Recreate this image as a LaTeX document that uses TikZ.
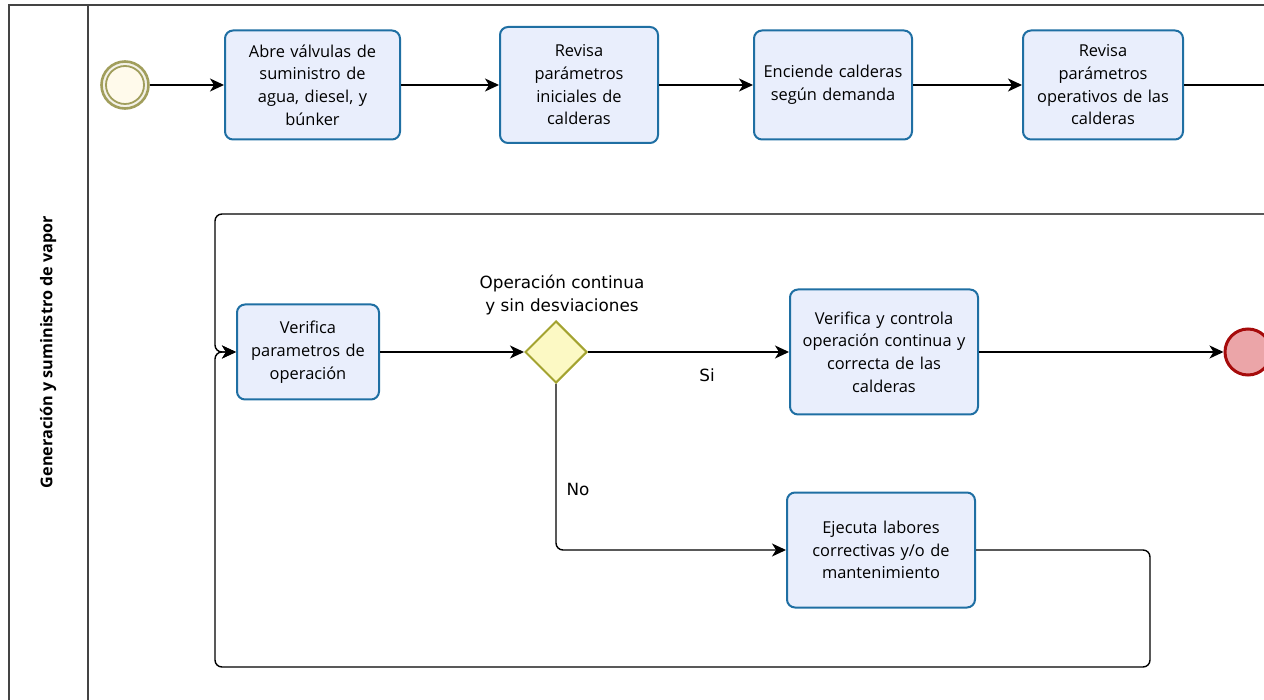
\documentclass[tikz,border=0pt]{standalone}
\usepackage{fontspec}
\setmainfont{Open Sans}
\newfontfamily\labelfont{DejaVu Sans}
\usetikzlibrary{arrows.meta,shapes.geometric}

\definecolor{taskfill}{HTML}{E9EEFC}
\definecolor{taskline}{HTML}{1F6FA3}
\definecolor{gwfill}{HTML}{FCF9C4}
\definecolor{gwline}{HTML}{A3A330}
\definecolor{startfill}{HTML}{FFFAEB}
\definecolor{startline}{HTML}{A19E5C}
\definecolor{endfill}{HTML}{EBA5A8}
\definecolor{endline}{HTML}{A60B0B}
\definecolor{poolline}{HTML}{444444}

\tikzset{
  task/.style={draw=taskline, fill=taskfill, line width=2pt, rounded corners=8pt,
    align=center, inner sep=2pt, font=\fontsize{16.4}{22.7}\selectfont},
  gateway/.style={diamond, draw=gwline, fill=gwfill, line width=2pt,
    minimum width=62pt, minimum height=62pt, inner sep=0pt},
  flow/.style={draw=black, line width=1.4pt,
    -{Stealth[length=14pt,width=13pt,inset=4pt]}},
  plainflow/.style={draw=black, line width=1.4pt},
  lbl/.style={align=center, font=\labelfont\fontsize{16.8}{23}\selectfont},
}

\begin{document}
\begin{tikzpicture}[x=1pt,y=-1pt]
\useasboundingbox (0,0) rectangle (1264,700);

% pool and lane
\draw[poolline, line width=1.5pt] (9,720) -- (9,5) -- (1300,5);
\draw[poolline, line width=1.5pt] (88,5) -- (88,720);
\node[rotate=90, font=\fontsize{16.2}{18}\selectfont\bfseries] (lane) at (48,352) {Generación y suministro de vapor};

% start event
\node[circle, draw=startline, fill=startfill!60!startline!30, line width=2.6pt, minimum size=47pt, inner sep=0pt] (start) at (125,85) {};
\node[circle, draw=startline, fill=startfill, line width=1.8pt, minimum size=38pt, inner sep=0pt] (startin) at (125,85) {};

% upper row of tasks
\node[task, minimum width=175pt, minimum height=109pt, text width=165pt] (t1) at (312.5,85)
  {Abre válvulas de\\suministro de\\agua, diesel, y\\búnker};
\node[task, minimum width=158pt, minimum height=116pt, text width=150pt] (t2) at (579,85)
  {Revisa\\parámetros\\iniciales de\\calderas};
\node[task, minimum width=158pt, minimum height=109pt, text width=150pt] (t3) at (833,85)
  {Enciende calderas\\según demanda};
\node[task, minimum width=160pt, minimum height=109pt, text width=152pt] (t4) at (1103,85)
  {Revisa\\parámetros\\operativos de las\\calderas};
\coordinate (outR) at (1280,85);

% lower part
\node[task, minimum width=142pt, minimum height=95pt, text width=134pt] (v1) at (308,352)
  {Verifica\\parametros de\\operación};
\node[gateway] (gw) at (556,352) {};
\node[lbl] (gwlbl) at (562,295) {Operación continua\\y sin desviaciones};
\node[task, minimum width=188pt, minimum height=125pt, text width=180pt] (v2) at (884,352)
  {Verifica y controla\\operación continua y\\correcta de las\\calderas};
\node[circle, draw=endline, fill=endfill, line width=3pt, minimum size=46pt, inner sep=0pt] (end) at (1248,352) {};
\node[task, minimum width=188pt, minimum height=115pt, text width=180pt] (ej) at (881,550)
  {Ejecuta labores\\correctivas y/o de\\mantenimiento};

\node[lbl] (si) at (707,375) {Si};
\node[lbl] (no) at (578,489) {No};

\coordinate (inR) at (1280,214);
\coordinate (loopTL) at (215,214);
\coordinate (merge) at (215,352);

% sequence flows
\draw[flow] (start) -- (t1);
\draw[flow] (t1) -- (t2);
\draw[flow] (t2) -- (t3);
\draw[flow] (t3) -- (t4);
\draw[plainflow] (t4) -- (outR);

\draw[flow, rounded corners=7pt] (inR) -- (loopTL) -- (merge) -- (v1.west);
\draw[flow, rounded corners=7pt] (ej.east) -- (1150,550) -- (1150,667) -- (215,667) -- (merge) -- (v1.west);

\draw[flow] (v1) -- (gw);
\draw[flow] (gw) -- (v2);
\draw[flow] (v2) -- (end);
\draw[flow, rounded corners=7pt] (gw.south) |- (ej.west);
\end{tikzpicture}
\end{document}
